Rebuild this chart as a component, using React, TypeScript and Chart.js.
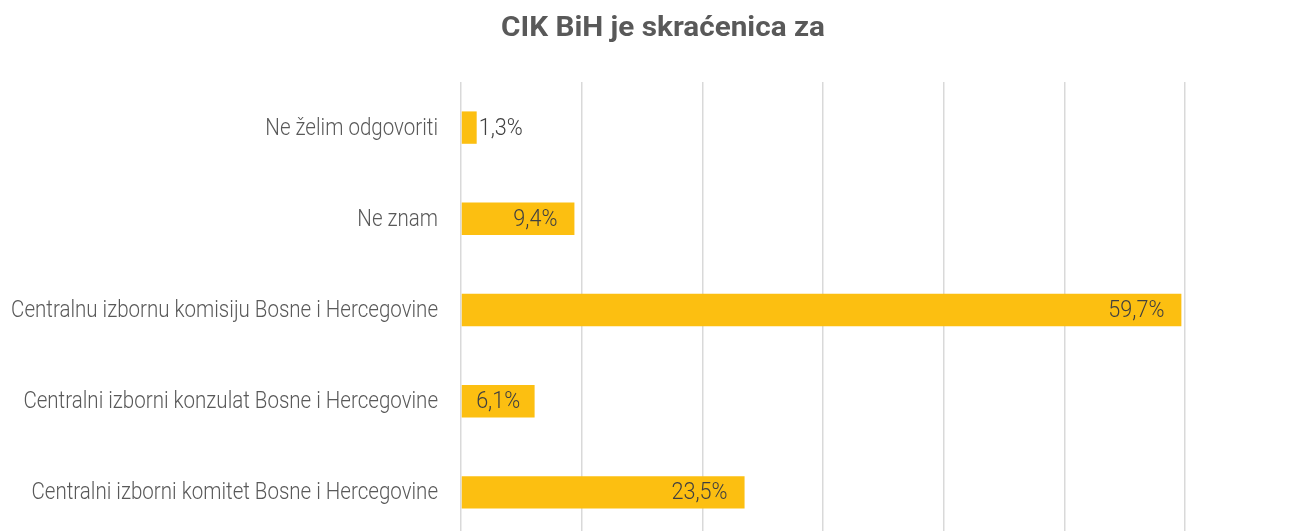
import React, { useEffect, useRef } from "react";
import { Chart, registerables } from "chart.js";

Chart.register(...registerables);

const titleText = "CIK BiH je skraćenica za";
const categories = [
  "Ne želim odgovoriti",
  "Ne znam",
  "Centralnu izbornu komisiju Bosne i Hercegovine",
  "Centralni izborni konzulat Bosne i Hercegovine",
  "Centralni izborni komitet Bosne i Hercegovine",
];
const values = [1.3, 9.4, 59.7, 6.1, 23.5];
const axisMin = 0;
const axisMax = 60;
const axisStep = 10;

const FONT = 'Roboto, "Noto Sans", sans-serif';
const CONDENSE = 0.855;

// Draws text horizontally condensed, to approach the narrow face of the original.
function drawCondensed(ctx: any, text: string, x: number, y: number, align: string, sx: number) {
  const w = ctx.measureText(text).width * sx;
  let left = x;
  if (align === "right") left = x - w;
  else if (align === "center") left = x - w / 2;
  ctx.save();
  ctx.translate(left, y);
  ctx.scale(sx, 1);
  ctx.textAlign = "left";
  ctx.fillText(text, 0, 0);
  ctx.restore();
}

const customText = {
  id: "customText",
  afterDraw(chart: any) {
    const ctx = chart.ctx;
    // title
    ctx.save();
    ctx.font = `bold 27px ${FONT}`;
    ctx.fillStyle = "#595959";
    ctx.textBaseline = "middle";
    drawCondensed(ctx, titleText, 655, 21, "center", 1.1);
    ctx.restore();

    // category labels
    const yScale = chart.scales.y;
    ctx.save();
    ctx.font = `300 24px ${FONT}`;
    ctx.fillStyle = "#595959";
    ctx.textBaseline = "middle";
    (chart.data.labels as string[]).forEach((lab, i) => {
      const y = yScale.getPixelForValue(i);
      drawCondensed(ctx, lab, yScale.right - 23, y + 1, "right", CONDENSE);
    });
    ctx.restore();

    // value labels
    const meta = chart.getDatasetMeta(0);
    ctx.save();
    ctx.font = `300 24px ${FONT}`;
    ctx.fillStyle = "#404040";
    ctx.textBaseline = "middle";
    const sx = 0.9;
    meta.data.forEach((bar: any, i: number) => {
      const v = chart.data.datasets[0].data[i] as number;
      const text = v.toFixed(1).replace(".", ",") + "%";
      const w = ctx.measureText(text).width * sx;
      const end = bar.x;
      const base = bar.base;
      const pad = 17;
      if (w + 4 > end - base) {
        drawCondensed(ctx, text, end + 2, bar.y + 1, "left", sx);
      } else if (end - pad - w < base + pad) {
        drawCondensed(ctx, text, (end + base) / 2, bar.y + 1, "center", sx);
      } else {
        drawCondensed(ctx, text, end - pad, bar.y + 1, "right", sx);
      }
    });
    ctx.restore();
  },
};

export default function App() {
  const ref = useRef<HTMLCanvasElement>(null);
  useEffect(() => {
    if (!ref.current) return;
    const chart = new Chart(ref.current, {
      type: "bar",
      data: {
        labels: categories,
        datasets: [
          {
            data: values,
            backgroundColor: "#FCBF11",
            borderWidth: 0,
            categoryPercentage: 1,
            barPercentage: 0.355,
          },
        ],
      },
      options: {
        indexAxis: "y",
        animation: false,
        responsive: true,
        maintainAspectRatio: false,
        layout: { padding: { left: 0, right: 104, top: 74, bottom: 10 } },
        plugins: {
          legend: { display: false },
          tooltip: { enabled: false },
          title: { display: false },
        },
        scales: {
          x: {
            min: axisMin,
            max: axisMax,
            ticks: { display: false, stepSize: axisStep },
            border: { display: false },
            grid: { color: "#d9d9d9", lineWidth: 1.5, drawTicks: false },
            afterFit(scale: any) {
              scale.height = 0;
            },
          },
          y: {
            border: { display: false },
            grid: { display: false, drawTicks: false },
            ticks: { display: false },
            afterFit(scale: any) {
              scale.width = 453;
            },
          },
        },
      },
      plugins: [customText],
    });
    return () => chart.destroy();
  }, []);
  return (
    <div style={{ position: "relative", width: "100%", height: "540px" }}>
      <canvas ref={ref} />
    </div>
  );
}
